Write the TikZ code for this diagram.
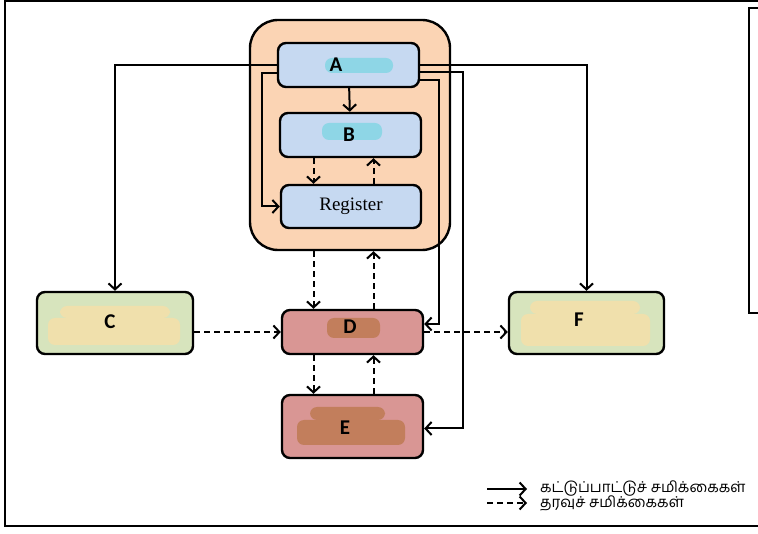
\documentclass[tikz,border=0pt]{standalone}
\usepackage{fontspec}
\usepackage{tikz}
\usetikzlibrary{arrows.meta}
\newfontfamily\labelfont{Carlito}
\newfontfamily\regfont{Liberation Serif}
\newfontfamily\tamilfont[Script=Tamil]{Hind Madurai}
\definecolor{peach}{HTML}{FBD4B4}
\definecolor{paleblue}{HTML}{C6D9F1}
\definecolor{sage}{HTML}{D7E4BD}
\definecolor{rose}{HTML}{D99694}
\definecolor{smudgecyan}{HTML}{8ED6E6}
\definecolor{smudgesand}{HTML}{F0E0AC}
\definecolor{smudgebrown}{HTML}{C27E5C}

\begin{document}
\begin{tikzpicture}[x=1pt, y=-1pt,
  unit/.style={draw, line width=2.4pt, rounded corners=8pt, inner sep=0pt},
  ctrl/.style={line width=2pt, -{Straight Barb[length=6pt,width=13pt,line width=2pt]}},
  data/.style={ctrl, dash pattern=on 6pt off 4pt},
  tag/.style={font=\labelfont\bfseries\fontsize{21}{24}\selectfont, inner sep=0pt},
  smudge/.style={rounded corners=7pt}]
  \useasboundingbox (0,0) rectangle (758,534);
  \clip (0,0) rectangle (758,534);
  \draw[line width=2pt] (5,1.5) rectangle (790,526);
  \draw[line width=2pt] (749,8) rectangle (790,313);

  \node[unit, fill=peach, rounded corners=28pt, minimum width=200, minimum height=230] (cpu) at (350,135) {};
  \node[unit, fill=paleblue, minimum width=141, minimum height=44] (A) at (348.5,65) {};
  \node[unit, fill=paleblue, minimum width=141, minimum height=44] (B) at (350.5,135) {};
  \node[unit, fill=paleblue, minimum width=140, minimum height=43, font=\regfont\fontsize{19}{22}\selectfont] (reg) at (351,206.5) {Register};
  \node[unit, fill=sage, minimum width=156, minimum height=62] (C) at (115,323) {};
  \node[unit, fill=rose, minimum width=141, minimum height=44] (D) at (352.5,332) {};
  \node[unit, fill=rose, minimum width=141, minimum height=63] (E) at (352.5,426.5) {};
  \node[unit, fill=sage, minimum width=155, minimum height=62] (F) at (586.5,323) {};

  \fill[smudgecyan, smudge] (325,58) rectangle (393,73);
  \fill[smudgecyan, smudge] (322,123) rectangle (382,140);
  \fill[smudgesand, smudge] (60,306) rectangle (170,318);
  \fill[smudgesand, smudge] (48,318) rectangle (180,345);
  \fill[smudgesand, smudge] (530,301) rectangle (640,314);
  \fill[smudgesand, smudge] (521,314) rectangle (650,346);
  \fill[smudgebrown, smudge] (327,318) rectangle (380,338);
  \fill[smudgebrown, smudge] (310,407) rectangle (385,420);
  \fill[smudgebrown, smudge] (297,420) rectangle (405,445);

  \node[tag] (la) at (336,65) {A};
  \node[tag] (lb) at (349,135) {B};
  \node[tag] (lc) at (110,322) {C};
  \node[tag] (ld) at (350,327) {D};
  \node[tag] (le) at (345,428) {E};
  \node[tag] (lf) at (579,320) {F};

  \draw[ctrl] (A.west) -| (C.north);
  \draw[ctrl] (A.east) -| (F.north);
  \draw[ctrl] (A) -- (B);
  \draw[ctrl] ([yshift=-8pt]A.west) -- ++(-15,0) |- (reg.west);
  \draw[ctrl] ([yshift=-15pt]A.east) -- ++(19,0) |- ([yshift=8pt]D.east);
  \draw[ctrl] ([yshift=-7pt]A.east) -- ++(43,0) |- ([yshift=-2pt]E.east);

  \draw[data] ([xshift=-37pt]B.south) -- ([xshift=-37pt]B.south |- reg.north);
  \draw[data] ([xshift=23pt]B.south |- reg.north) -- ([xshift=23pt]B.south);
  \draw[data] ([xshift=-39pt]D.north |- cpu.south) -- ([xshift=-39pt]D.north);
  \draw[data] ([xshift=21pt]D.north) -- ([xshift=21pt]D.north |- cpu.south);
  \draw[data] ([xshift=-39pt]D.south) -- ([xshift=-39pt]D.south |- E.north);
  \draw[data] ([xshift=21pt]D.south |- E.north) -- ([xshift=21pt]D.south);
  \draw[data] (C.east |- D.west) -- (D.west);
  \draw[data] (D.east) -- (D.east -| F.west);

  \coordinate (k1) at (487,489);
  \coordinate (k2) at (487,503);
  \node[anchor=west, inner sep=0pt, font=\tamilfont\fontsize{15}{17}\selectfont] (t1) at (540,489) {கட்டுப்பாட்டுச்  சமிக்கைகள்};
  \node[anchor=west, inner sep=0pt, font=\tamilfont\fontsize{15}{17}\selectfont] (t2) at (540,503) {தரவுச்  சமிக்கைகள்};
  \draw[ctrl] (k1) -- ([xshift=-13pt]t1.west);
  \draw[data] (k2) -- ([xshift=-13pt]t2.west);
\end{tikzpicture}
\end{document}
